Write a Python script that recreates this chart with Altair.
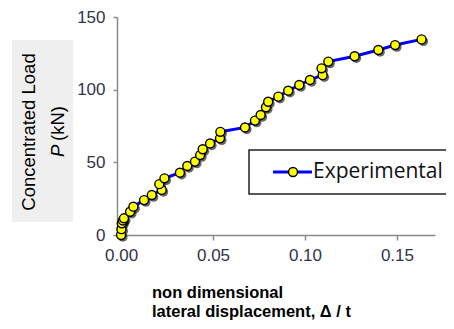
import altair as alt
import pandas as pd

# non dimensional lateral displacement (Δ/t) and concentrated load P (kN)
disp = [0.0000, 0.0002, 0.0004, 0.0010, 0.0016, 0.0049, 0.0067, 0.0125, 0.0167,
        0.0221, 0.0208, 0.0236, 0.0320, 0.0360, 0.0402, 0.0430, 0.0444, 0.0484,
        0.0538, 0.0540, 0.0674, 0.0728, 0.0759, 0.0788, 0.0800, 0.0855, 0.0909,
        0.0969, 0.1027, 0.1096, 0.1090, 0.1127, 0.1270, 0.1399, 0.1490, 0.1634]
load = [0.0, 4.0, 8.0, 10.0, 11.5, 16.0, 19.5, 24.0, 27.5,
        31.0, 35.0, 39.0, 42.9, 47.5, 50.5, 55.0, 59.0, 63.0,
        66.5, 71.0, 74.0, 78.7, 82.6, 87.9, 91.7, 95.2, 99.3,
        103.2, 106.7, 110.0, 114.7, 119.3, 123.0, 127.3, 130.7, 134.6]

x_ticks = [0.0, 0.05, 0.10, 0.15]
y_ticks = [0, 50, 100, 150]

df = pd.DataFrame({"d": disp, "p": load, "i": list(range(len(disp)))})
one = alt.Data(values=[{}])

W, H = 318, 218

xs = alt.Scale(domain=[-0.0022, 0.1707], nice=False, zero=False)
ys = alt.Scale(domain=[0, 150], nice=False)

base = alt.Chart(df)

line = base.mark_line(color="#0000ff", strokeWidth=3).encode(
    x=alt.X("d:Q", scale=xs, axis=alt.Axis(values=x_ticks, format=".2f", title=None,
                                            grid=False, tickSize=5, labelPadding=7)),
    y=alt.Y("p:Q", scale=ys, axis=alt.Axis(values=y_ticks, title=None, grid=False,
                                            tickSize=4, labelPadding=8)),
    order="i:Q",
)

shadow = base.mark_circle(color="#000000", opacity=0.6, size=90, xOffset=1.8, yOffset=2.0).encode(
    x=alt.X("d:Q", scale=xs), y=alt.Y("p:Q", scale=ys)
)

pts = base.mark_point(filled=True, fill="#ffff00", stroke="#000000", strokeWidth=1.4,
                      size=80, opacity=1, shape="circle").encode(
    x=alt.X("d:Q", scale=xs), y=alt.Y("p:Q", scale=ys)
)

# y title box and texts
ybox = alt.Chart(one).mark_rect(color="#efefef").encode(
    x=alt.value(-105), x2=alt.value(-44), y=alt.value(23), y2=alt.value(205)
)
yt1 = alt.Chart(one).mark_text(text="Concentrated Load", angle=270, fontSize=18.5,
                               font="Liberation Sans", color="#000000", baseline="middle",
                               align="center").encode(x=alt.value(-88), y=alt.value(115))
yt2 = alt.Chart(one).mark_text(text="P", angle=270, fontSize=18.5, fontStyle="italic",
                               font="Liberation Sans", color="#000000", baseline="middle",
                               align="left").encode(x=alt.value(-59), y=alt.value(140))
yt3 = alt.Chart(one).mark_text(text="(kN)", angle=270, fontSize=18.5,
                               font="Liberation Sans", color="#000000", baseline="middle",
                               align="left").encode(x=alt.value(-59), y=alt.value(124))

# x title
xt1 = alt.Chart(one).mark_text(text="non dimensional", fontSize=16.5, fontWeight="bold",
                               font="Liberation Sans", color="#000000", align="left",
                               baseline="middle").encode(x=alt.value(35), y=alt.value(276))
xt2 = alt.Chart(one).mark_text(text="lateral displacement, Δ / t", fontSize=16.5, fontWeight="bold",
                               font="Liberation Sans", color="#000000", align="left",
                               baseline="middle").encode(x=alt.value(35), y=alt.value(295))

# legend
lbox = alt.Chart(one).mark_rect(fill="#ffffff", stroke="#222222", strokeWidth=1.5).encode(
    x=alt.value(132), x2=alt.value(360), y=alt.value(133), y2=alt.value(177)
)
lline = alt.Chart(one).mark_rule(color="#0000ff", strokeWidth=3).encode(
    x=alt.value(156), x2=alt.value(195), y=alt.value(155)
)
lpt = alt.Chart(one).mark_point(filled=True, fill="#ffff00", stroke="#000000", strokeWidth=1.4,
                                size=80, opacity=1, shape="circle").encode(
    x=alt.value(176), y=alt.value(155)
)
ltxt = alt.Chart(one).mark_text(text="Experimental", fontSize=21, font="Open Sans",
                                color="#111111", align="left", baseline="middle").encode(
    x=alt.value(196), y=alt.value(155)
)

chart = alt.layer(ybox, yt1, yt2, yt3, xt1, xt2, line, shadow, pts,
                  lbox, lline, lpt, ltxt).properties(
    width=W, height=H,
    autosize=alt.AutoSizeParams(type="none"),
    padding={"left": 109, "top": 9, "right": 11, "bottom": 86},
).configure_view(stroke=None).configure_axis(
    domainColor="#8a8a8a", domainWidth=1.5, tickColor="#8a8a8a", tickWidth=1.5,
    labelFont="Liberation Sans", labelFontSize=17, labelColor="#33334a",
)

chart.save("out.html", embed_options={"renderer": "svg", "actions": False})
